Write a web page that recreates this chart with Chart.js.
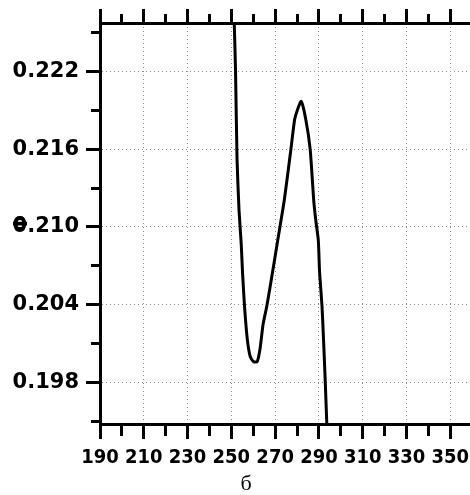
<!DOCTYPE html>
<html lang="ru">
<head>
  <meta charset="UTF-8">
  <title>Ф</title>
  <style>
    body { margin: 0; background: #fff; overflow: hidden; }
    #wrap { width: 470px; height: 495px; position: relative; }
  </style>
  <script src="https://cdn.jsdelivr.net/npm/chart.js"></script>
</head>
<body>
  <div id="wrap"><canvas id="chart"></canvas></div>

  <script>
    // values
    const xValues = [251.0, 251.3, 251.9, 252.6, 253.5, 254.5, 255.1, 256.0, 257.3, 258.6,
                     260.2, 261.8, 263.1, 264.5, 266.2, 268.8, 271.2, 274.2, 277.2, 278.9,
                     280.1, 281.9, 284.0, 286.0, 287.6, 288.5, 289.7, 290.3, 291.4, 292.1,
                     292.9, 293.6, 294.0];
    const yValues = [0.2272, 0.2258, 0.2221, 0.2152, 0.2113, 0.2087, 0.2065, 0.2039, 0.2013, 0.2000,
                     0.1996, 0.1996, 0.2006, 0.2025, 0.2039, 0.2065, 0.2090, 0.2121, 0.2160, 0.2183,
                     0.2190, 0.2197, 0.2183, 0.2160, 0.2121, 0.2106, 0.2090, 0.2065, 0.2039, 0.2013,
                     0.1980, 0.1948, 0.1935];

    // axis ticks (major ones get a label, minor ones only a short mark)
    const xMajor = [190, 210, 230, 250, 270, 290, 310, 330, 350];
    const xMinor = [200, 220, 240, 260, 280, 300, 320, 340];
    const yMajor = [0.198, 0.204, 0.210, 0.216, 0.222];
    const yMinor = [0.195, 0.201, 0.207, 0.213, 0.219, 0.225];

    const xTicks = xMajor.concat(xMinor).sort((a, b) => a - b);
    const yTicks = yMajor.concat(yMinor).sort((a, b) => a - b);

    const isMajor = (list, v) => list.some(m => Math.abs(m - v) < 1e-6);

    const points = xValues.map((x, i) => ({ x: x, y: yValues[i] }));

    const tickFontX = { family: "'DejaVu Sans Condensed', 'DejaVu Sans'", size: 20, weight: 'bold' };
    const tickFontY = { family: "'DejaVu Sans'", size: 21, weight: 'bold' };
    const gridGrey = '#8c8c8c';

    // fixed box sizes so the plot area sits where it does in the picture
    function fitX(h) {
      return s => { s.height = h; s.paddingLeft = 0; s.paddingRight = 0; };
    }

    const ctx = document.getElementById('chart').getContext('2d');
    new Chart(ctx, {
      type: 'line',
      data: {
        datasets: [{
          data: points,
          borderColor: '#000',
          borderWidth: 3,
          pointRadius: 0,
          tension: 0.2,
          fill: false
        }]
      },
      options: {
        responsive: true,
        maintainAspectRatio: false,
        animation: false,
        // negative right padding only shifts the bottom caption a bit to the right
        layout: { padding: { left: 0, right: -22, top: 0, bottom: 0 } },
        plugins: {
          legend: { display: false },
          tooltip: { enabled: false },
          title: {
            display: true,
            position: 'bottom',
            text: 'б',
            color: '#000',
            font: { family: "'Liberation Serif'", size: 22, weight: 'normal', lineHeight: 1 },
            padding: { top: 3, bottom: 0 }
          }
        },
        scales: {
          x: {
            type: 'linear',
            position: 'bottom',
            min: 190,
            max: 359,
            afterBuildTicks: s => { s.ticks = xTicks.map(v => ({ value: v })); },
            afterFit: fitX(46),
            border: { display: true, color: '#000', width: 3, dash: [1, 3] },
            grid: {
              color: c => isMajor(xMajor, c.tick.value) && c.tick.value !== 190 ? gridGrey : 'rgba(0,0,0,0)',
              lineWidth: 1,
              tickColor: '#000',
              tickWidth: 3,
              tickLength: 15,
              tickBorderDash: c => isMajor(xMajor, c.tick.value) ? [] : [10, 20]
            },
            ticks: {
              autoSkip: false,
              maxRotation: 0,
              minRotation: 0,
              padding: 7,
              color: '#000',
              font: tickFontX,
              callback: v => isMajor(xMajor, v) ? String(v) : ''
            }
          },
          xTop: {
            type: 'linear',
            position: 'top',
            min: 190,
            max: 359,
            afterBuildTicks: s => { s.ticks = xTicks.map(v => ({ value: v })); },
            afterFit: fitX(23),
            border: { display: true, color: '#000', width: 3 },
            grid: {
              drawOnChartArea: false,
              tickColor: '#000',
              tickWidth: 3,
              tickLength: 14,
              tickBorderDash: c => isMajor(xMajor, c.tick.value) ? [] : [20, 5],
              tickBorderDashOffset: c => isMajor(xMajor, c.tick.value) ? 0 : 20
            },
            ticks: { display: false }
          },
          y: {
            type: 'linear',
            position: 'left',
            min: 0.19479,
            max: 0.22575,
            afterBuildTicks: s => { s.ticks = yTicks.map(v => ({ value: v })); },
            afterFit: s => { s.width = 100; },
            border: { display: true, color: '#000', width: 3, dash: [1, 3] },
            grid: {
              color: c => isMajor(yMajor, c.tick.value) ? gridGrey : 'rgba(0,0,0,0)',
              lineWidth: 1,
              tickColor: '#000',
              tickWidth: 3,
              tickLength: 14,
              tickBorderDash: c => isMajor(yMajor, c.tick.value) ? [] : [20, 5],
              tickBorderDashOffset: c => isMajor(yMajor, c.tick.value) ? 0 : 20
            },
            title: {
              display: true,
              text: 'Φ',
              color: '#000',
              font: { family: "'DejaVu Sans'", size: 20, weight: 'bold' },
              padding: { top: 10, bottom: 0 }
            },
            ticks: {
              autoSkip: false,
              padding: 7,
              color: '#000',
              font: tickFontY,
              callback: v => isMajor(yMajor, v) ? v.toFixed(3) : ''
            }
          }
        }
      }
    });
  </script>
</body>
</html>
